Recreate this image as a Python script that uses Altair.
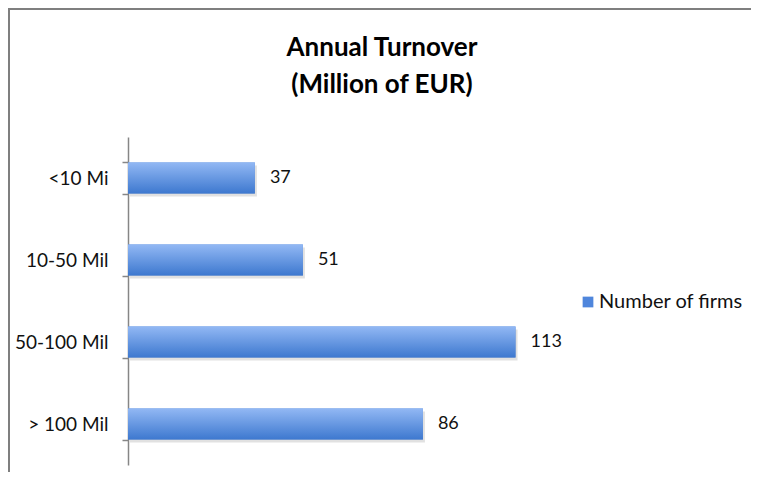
import altair as alt
import pandas as pd

categories = ["<10 Mi", "10-50 Mil", "50-100 Mil", "> 100 Mil"]
firms = [37, 51, 113, 86]
series_name = "Number of firms"
title_lines = ["Annual Turnover", "(Million of EUR)"]

df = pd.DataFrame({"cat": categories, "firms": firms, "series": [series_name] * len(categories)})

FONT = "Lato"
W, H = 440, 328
TXT = "#111111"
GRAY = "#868686"

y_enc = alt.Y(
    "cat:N", sort=categories, title=None,
    scale=alt.Scale(paddingInner=0.62, paddingOuter=0.31),
    axis=alt.Axis(tickBand="extent", domainColor=GRAY, tickColor=GRAY, tickSize=6,
                  domainWidth=1.5, tickWidth=1.5, labelPadding=14, labelFont=FONT,
                  labelFontSize=19, labelColor=TXT),
)
x_enc = alt.X("firms:Q", scale=alt.Scale(domain=[0, 128.3], nice=False), axis=None)

base = alt.Chart(df)

legend_bars = base.mark_bar().encode(
    x=x_enc, y=y_enc,
    color=alt.Color("series:N", scale=alt.Scale(range=["#4f86dc"]),
                    legend=alt.Legend(title=None, orient="none", legendX=450, legendY=155,
                                      symbolType="square", symbolSize=115, symbolStrokeWidth=0,
                                      labelOffset=1, labelFont=FONT, labelFontSize=20,
                                      labelColor=TXT, padding=0)),
)

shadow = base.mark_bar(color="#9a9a9a", opacity=0.3, xOffset=2, yOffset=3).encode(x=x_enc, y=y_enc)

grad = alt.Gradient(
    gradient="linear",
    stops=[alt.GradientStop(color="#92b8f4", offset=0), alt.GradientStop(color="#3d78cf", offset=1)],
    x1=0, x2=0, y1=0, y2=1,
)
bars = base.mark_bar(fill=grad).encode(x=x_enc, y=y_enc)

labels = base.mark_text(align="left", baseline="middle", dx=15, font=FONT, fontSize=18, color=TXT).encode(
    x=x_enc, y=y_enc, text="firms:Q"
)

frame = pd.DataFrame({"k": [0]})
border_top = alt.Chart(frame).mark_rule(color="#7f7f7f", strokeWidth=2).encode(
    x=alt.value(-120), x2=alt.value(W + 190), y=alt.value(-128)
)
border_left = alt.Chart(frame).mark_rule(color="#7f7f7f", strokeWidth=2).encode(
    x=alt.value(-119), y=alt.value(-129), y2=alt.value(H + 10)
)

chart = alt.layer(border_top, border_left, legend_bars, shadow, bars, labels).properties(
    width=W, height=H,
    title=alt.TitleParams(text=title_lines, anchor="middle", dx=34, fontSize=26, font=FONT,
                          fontWeight="bold", lineHeight=37, offset=-91, color="#000000"),
    padding={"left": 120, "top": 129, "right": 183, "bottom": 7},
    autosize="none",
).configure_view(stroke=None)

chart.save("out.html", embed_options={"renderer": "svg", "actions": False})
